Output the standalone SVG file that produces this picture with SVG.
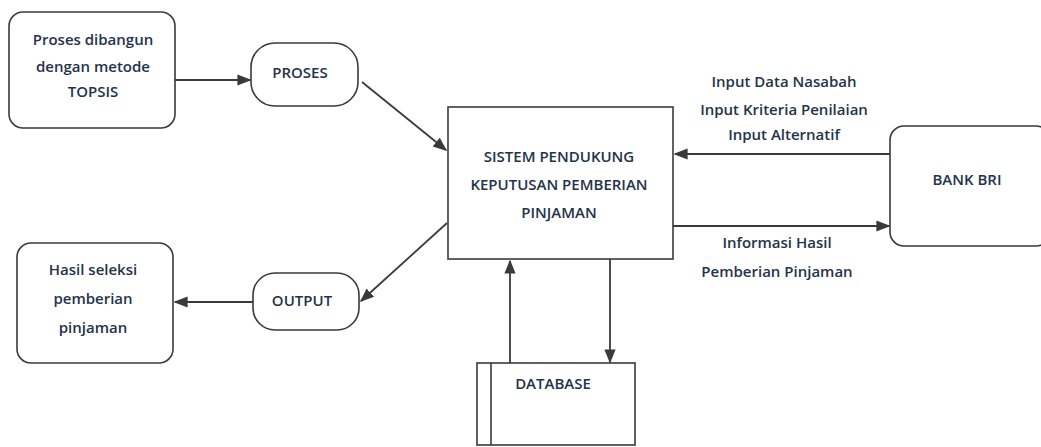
<svg xmlns="http://www.w3.org/2000/svg" width="1041" height="447" viewBox="0 0 1041 447">
<style>
.box{fill:#fff;stroke:#3a3a3a;stroke-width:1.6}
.t{font-family:"Open Sans","Liberation Sans",sans-serif;font-size:15px;font-weight:600;fill:#24324a;text-anchor:middle}
.c{stroke:#3a3a3a;stroke-width:1.8;fill:none}
</style>
<defs>
<marker id="ah2" viewBox="0 0 10 10" refX="9" refY="5" markerWidth="14" markerHeight="14" markerUnits="userSpaceOnUse" orient="auto">
<path d="M0,1 L10,5 L0,9 z" fill="#3a3a3a"/>
</marker>
</defs>
<rect width="1041" height="447" fill="#fff"/>
<g id="connectors">
<line class="c" x1="175" y1="80" x2="250" y2="80" marker-end="url(#ah2)"/>
<line class="c" x1="362" y1="82" x2="446" y2="150" marker-end="url(#ah2)"/>
<line class="c" x1="890" y1="154" x2="675" y2="154" marker-end="url(#ah2)"/>
<line class="c" x1="673" y1="226" x2="889" y2="226" marker-end="url(#ah2)"/>
<line class="c" x1="447" y1="223" x2="361" y2="301" marker-end="url(#ah2)"/>
<line class="c" x1="253" y1="302" x2="175" y2="302" marker-end="url(#ah2)"/>
<line class="c" x1="510" y1="363" x2="510" y2="261" marker-end="url(#ah2)"/>
<line class="c" x1="610" y1="259" x2="610" y2="362" marker-end="url(#ah2)"/>
<text class="t" x="784" y="87">Input Data Nasabah</text>
<text class="t" x="784" y="115">Input Kriteria Penilaian</text>
<text class="t" x="784" y="140">Input Alternatif</text>
<text class="t" x="777" y="248">Informasi Hasil</text>
<text class="t" x="777" y="277">Pemberian Pinjaman</text>
</g>
<g id="n-proses-dibangun">
<rect class="box" x="9" y="12" width="166" height="116" rx="14"/>
<text class="t" x="93" y="45">Proses dibangun</text>
<text class="t" x="93" y="72">dengan metode</text>
<text class="t" x="93" y="97">TOPSIS</text>
</g>
<g id="n-proses">
<rect class="box" x="251" y="43" width="107" height="63" rx="24"/>
<text class="t" x="300" y="78">PROSES</text>
</g>
<g id="n-spk">
<rect class="box" x="448" y="107" width="225" height="152"/>
<text class="t" x="559" y="162">SISTEM PENDUKUNG</text>
<text class="t" x="559" y="190">KEPUTUSAN PEMBERIAN</text>
<text class="t" x="559" y="218">PINJAMAN</text>
</g>
<g id="n-bank">
<rect class="box" x="890" y="126" width="160" height="120" rx="14"/>
<text class="t" x="967" y="185">BANK BRI</text>
</g>
<g id="n-hasil">
<rect class="box" x="17" y="243" width="156" height="120" rx="14"/>
<text class="t" x="93" y="275">Hasil seleksi</text>
<text class="t" x="93" y="304">pemberian</text>
<text class="t" x="93" y="333">pinjaman</text>
</g>
<g id="n-output">
<rect class="box" x="253" y="273" width="106" height="57" rx="22"/>
<text class="t" x="302" y="306">OUTPUT</text>
</g>
<g id="n-database">
<rect class="box" x="477" y="363" width="158" height="82"/>
<line class="box" x1="491" y1="363" x2="491" y2="445"/>
<text class="t" x="553" y="389">DATABASE</text>
</g>
</svg>
